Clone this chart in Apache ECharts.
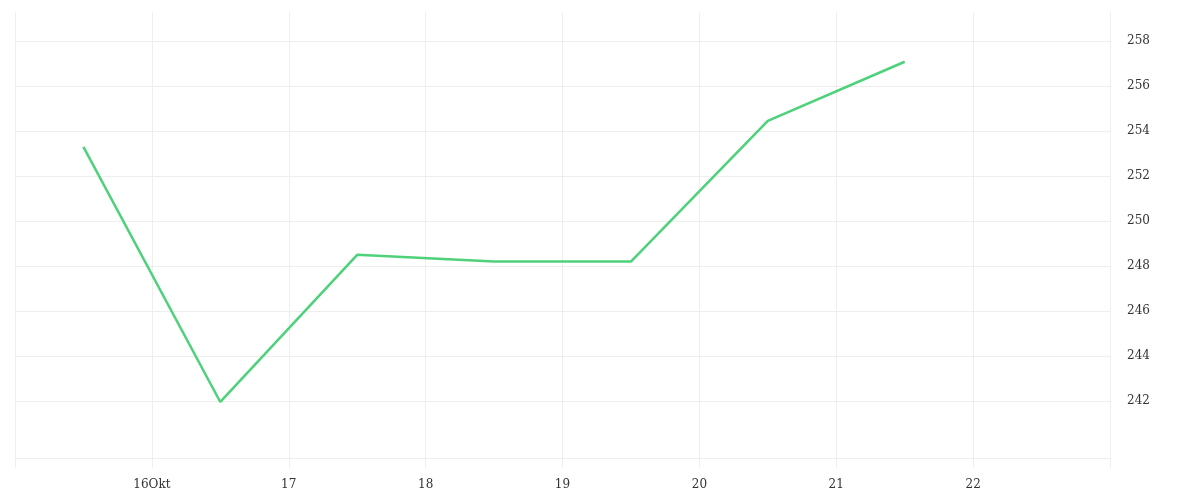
<!DOCTYPE html>
<html>
<head>
<meta charset="utf-8">
<script src="https://cdn.jsdelivr.net/npm/echarts@6/dist/echarts.min.js"></script>
<style>
html,body{margin:0;padding:0;background:#fff;}
#c{width:1200px;height:500px;}
</style>
</head>
<body>
<div id="c"></div>
<script>
// Data: points at midday of each day (UTC), October 2023
var pointDates = ['2023-10-15T12:00:00Z','2023-10-16T12:00:00Z','2023-10-17T12:00:00Z','2023-10-18T12:00:00Z','2023-10-19T12:00:00Z','2023-10-20T12:00:00Z','2023-10-21T12:00:00Z'];
var values = [253.3, 241.96, 248.5, 248.2, 248.2, 254.45, 257.08];
var yTicks = [242, 244, 246, 248, 250, 252, 254, 256, 258];
var xTickDays = [16, 17, 18, 19, 20, 21, 22];
var xTickLabels = ['16Okt', '17', '18', '19', '20', '21', '22'];
var xStart = '2023-10-15T00:00:00Z';
var xEnd = '2023-10-23T00:00:00Z';
var yMin = 239.47, yMax = 259.29;

var DAY = 86400000;
var seriesData = pointDates.map(function (d, i) { return [new Date(d).getTime(), values[i]]; });

var chart = echarts.init(document.getElementById('c'));
var font = 'DejaVu Serif';
chart.setOption({
  animation: false,
  grid: { left: 15, right: 90, top: 12, bottom: 42, containLabel: false },
  xAxis: {
    type: 'value',
    min: new Date(xStart).getTime(),
    max: new Date(xEnd).getTime(),
    interval: DAY,
    axisLine: { show: true, lineStyle: { color: '#eeeeee', width: 1 } },
    axisTick: { show: true, length: 10, lineStyle: { color: '#eeeeee' } },
    splitLine: { show: true, lineStyle: { color: '#eeeeee', width: 1 } },
    axisLabel: {
      color: '#333', fontFamily: font, fontSize: 12, margin: 21,
      formatter: function (v) {
        var d = new Date(v).getUTCDate();
        var idx = xTickDays.indexOf(d);
        return idx >= 0 ? xTickLabels[idx] : '';
      }
    }
  },
  yAxis: {
    type: 'value',
    position: 'right',
    min: yMin,
    max: yMax,
    axisLine: { show: false },
    axisTick: { show: false, customValues: yTicks },
    splitLine: { show: true, lineStyle: { color: '#eeeeee', width: 1 } },
    axisLabel: { customValues: yTicks, color: '#333', fontFamily: font, fontSize: 12, margin: 17, padding: [4, 0, 0, 0] }
  },
  series: [{
    type: 'line',
    data: seriesData,
    showSymbol: false,
    symbol: 'none',
    lineStyle: { color: '#4dd17a', width: 2.5 },
    itemStyle: { color: '#4dd17a' }
  }]
});
</script>
</body>
</html>
